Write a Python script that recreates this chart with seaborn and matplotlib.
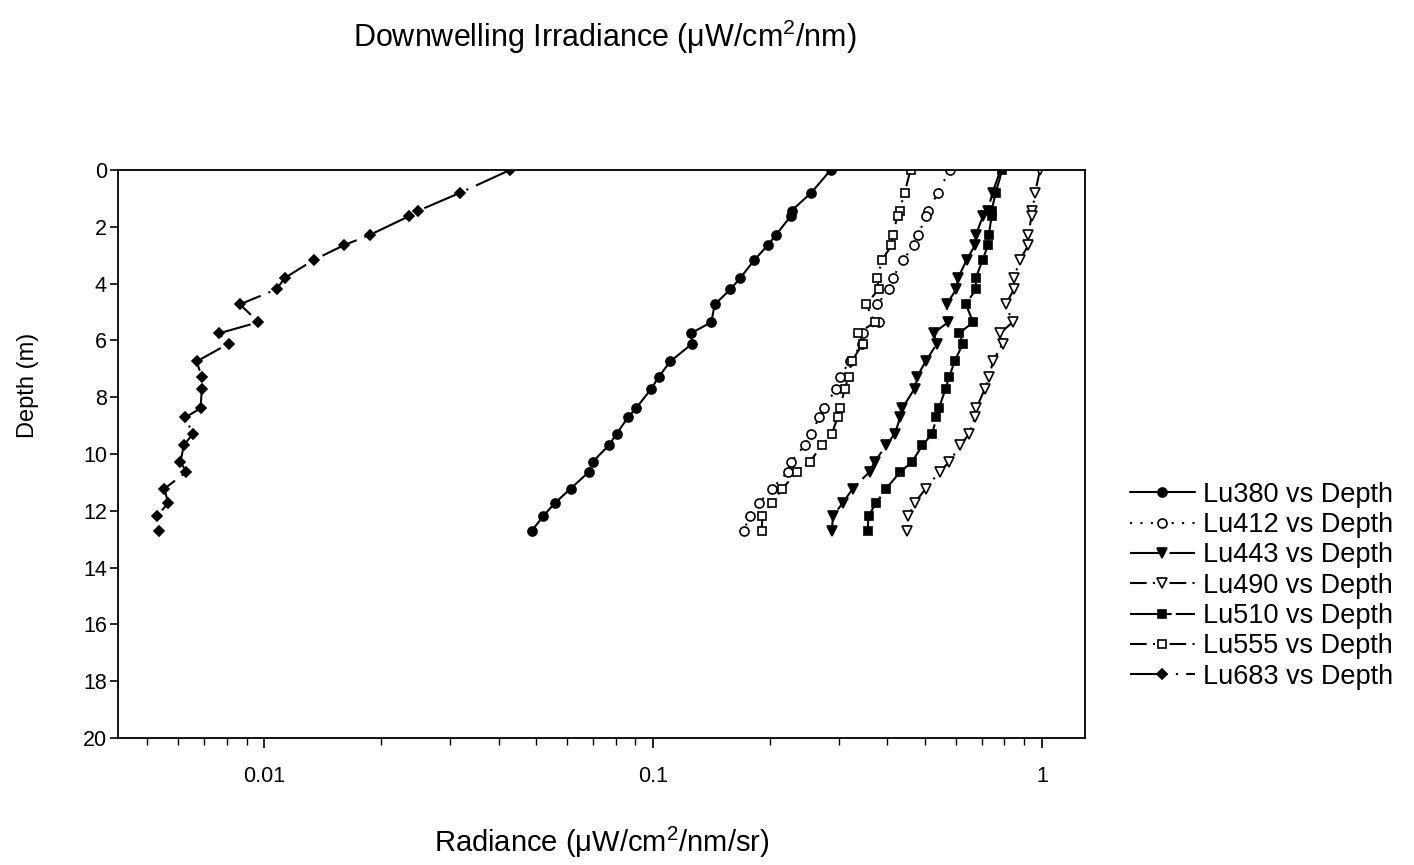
import numpy as np
import pandas as pd
import matplotlib
matplotlib.use("Agg")
import matplotlib.pyplot as plt
from matplotlib.ticker import LogLocator, FixedLocator, FixedFormatter, NullFormatter
import seaborn as sns

sns.set_theme(style="white")
plt.rcParams["font.family"] = ["Liberation Sans", "DejaVu Sans"]
plt.rcParams["mathtext.fontset"] = "custom"
plt.rcParams["mathtext.rm"] = "Liberation Sans"
plt.rcParams["mathtext.it"] = "Liberation Sans:italic"
plt.rcParams["text.color"] = "black"
plt.rcParams["axes.labelcolor"] = "black"
plt.rcParams["xtick.color"] = "black"
plt.rcParams["ytick.color"] = "black"

# Profile depths (m)
depth = [0, 0.8, 1.43, 1.62, 2.28, 2.65, 3.17, 3.8, 4.2, 4.73, 5.36, 5.75, 6.11,
         6.74, 7.28, 7.7, 8.39, 8.71, 9.29, 9.7, 10.28, 10.63, 11.22, 11.73, 12.18, 12.7]

# Upwelling radiance per band (uW/cm^2/nm/sr)
lu380 = [0.286, 0.255, 0.227, 0.226, 0.207, 0.197, 0.182, 0.1675, 0.158, 0.144, 0.141,
         0.125, 0.126, 0.1107, 0.1033, 0.0989, 0.0903, 0.0861, 0.0805, 0.0768, 0.0698,
         0.0683, 0.0613, 0.0558, 0.0522, 0.0487]
lu412 = [0.579, 0.54, 0.509, 0.504, 0.48, 0.468, 0.439, 0.413, 0.404, 0.377, 0.38,
         0.347, 0.345, 0.32, 0.302, 0.295, 0.275, 0.267, 0.255, 0.245, 0.226, 0.222,
         0.202, 0.187, 0.177, 0.171]
lu443 = [0.782, 0.746, 0.725, 0.705, 0.676, 0.672, 0.64, 0.608, 0.602, 0.568, 0.573,
         0.526, 0.537, 0.502, 0.477, 0.47, 0.437, 0.432, 0.418, 0.397, 0.371, 0.36,
         0.326, 0.307, 0.29, 0.288]
lu490 = [0.988, 0.96, 0.945, 0.94, 0.922, 0.922, 0.877, 0.847, 0.847, 0.807, 0.84,
         0.78, 0.792, 0.748, 0.731, 0.713, 0.678, 0.672, 0.649, 0.617, 0.577, 0.545,
         0.502, 0.47, 0.452, 0.449]
lu510 = [0.79, 0.76, 0.742, 0.742, 0.73, 0.726, 0.703, 0.676, 0.676, 0.637, 0.665,
         0.612, 0.626, 0.596, 0.577, 0.565, 0.543, 0.535, 0.522, 0.492, 0.463, 0.432,
         0.397, 0.374, 0.358, 0.356]
lu555 = [0.459, 0.443, 0.43, 0.425, 0.413, 0.41, 0.388, 0.377, 0.38, 0.353, 0.371,
         0.337, 0.346, 0.324, 0.318, 0.311, 0.302, 0.298, 0.288, 0.271, 0.253, 0.234,
         0.215, 0.202, 0.191, 0.19]
lu683 = [0.0428, 0.0319, 0.0249, 0.0236, 0.0187, 0.016, 0.01338, 0.01128, 0.01074,
         0.00865, 0.00965, 0.00764, 0.0081, 0.00669, 0.0069, 0.0069, 0.00685, 0.00626,
         0.00654, 0.0062, 0.00608, 0.0063, 0.00553, 0.00565, 0.0053, 0.00537]

series_names = ["Lu380 vs Depth", "Lu412 vs Depth", "Lu443 vs Depth", "Lu490 vs Depth",
                "Lu510 vs Depth", "Lu555 vs Depth", "Lu683 vs Depth"]
series_values = [lu380, lu412, lu443, lu490, lu510, lu555, lu683]

styles = [
    dict(marker="o", mfc="black", ms=6.5, ls="-"),
    dict(marker="o", mfc="white", ms=6.5, ls=(0, (1, 4))),
    dict(marker="v", mfc="black", ms=7, ls=(0, (16, 3))),
    dict(marker="v", mfc="white", ms=7, ls=(0, (8, 3, 1, 3, 1, 3))),
    dict(marker="s", mfc="black", ms=6, ls=(0, (20, 2))),
    dict(marker="s", mfc="white", ms=6, ls=(0, (8, 3, 1, 3, 1, 3))),
    dict(marker="D", mfc="black", ms=5.5, ls=(0, (18, 4, 1, 4))),
]

fig = plt.figure(figsize=(14.14, 8.65), dpi=100)
ax = fig.add_axes([118 / 1414, 1 - 738 / 865, (1085 - 118) / 1414, (738 - 170) / 865])

for name, vals, st in zip(series_names, series_values, styles):
    df = pd.DataFrame({"radiance": vals, "depth": depth})
    sns.lineplot(data=df, x="radiance", y="depth", sort=False, estimator=None, ax=ax,
                 color="black", linewidth=1.5, linestyle=st["ls"], marker=st["marker"],
                 markersize=st["ms"], markerfacecolor=st["mfc"], markeredgecolor="black",
                 markeredgewidth=1.2, label=name)

ax.set_xscale("log")
ax.set_xlim(0.0042, 1.29)
ax.set_ylim(20, 0)

ax.xaxis.set_major_locator(FixedLocator([0.01, 0.1, 1]))
ax.xaxis.set_major_formatter(FixedFormatter(["0.01", "0.1", "1"]))
ax.xaxis.set_minor_locator(LogLocator(base=10, subs=np.arange(2, 10)))
ax.xaxis.set_minor_formatter(NullFormatter())
ax.set_yticks(np.arange(0, 21, 2))

ax.tick_params(axis="both", which="major", direction="out", width=1.2,
               labelsize=15.5, color="black", labelcolor="black")
ax.tick_params(axis="x", which="major", length=7, pad=13)
ax.tick_params(axis="y", which="major", length=6, pad=2)
ax.tick_params(axis="x", which="minor", direction="out", length=5, width=1.0, color="black")
ax.tick_params(bottom=True, left=True, top=False, right=False)
ax.tick_params(axis="x", which="minor", bottom=True)

for sp in ax.spines.values():
    sp.set_visible(True)
    sp.set_color("black")
    sp.set_linewidth(1.3)
ax.grid(False)

ax.set_xlabel("Radiance (\u03bcW/cm$\\mathregular{^2}$/nm/sr)", fontsize=21)
ax.xaxis.set_label_coords(0.5, -0.152)
ax.set_ylabel("Depth (m)", fontsize=17)
ax.yaxis.set_label_coords(-0.082, 0.62)

fig.text(605 / 1414, 1 - 37 / 865, "Downwelling Irradiance (\u03bcW/cm$\\mathregular{^2}$/nm)",
         ha="center", va="center", fontsize=22)

leg = ax.legend(loc="center left", bbox_to_anchor=(1.0465, 0.268), frameon=False,
                fontsize=19.5, handlelength=2.4, handletextpad=0.3, labelspacing=0.16,
                borderaxespad=0, borderpad=0)
for t in leg.get_texts():
    t.set_color("black")

fig.savefig("out.png", dpi=100)
